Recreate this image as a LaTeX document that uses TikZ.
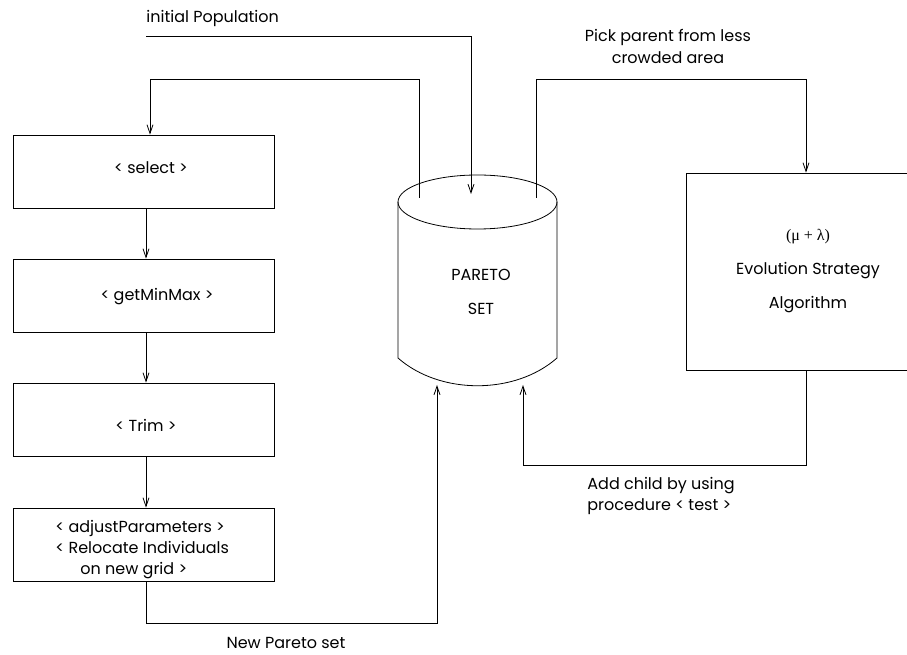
\documentclass[tikz,border=0pt]{standalone}
\usepackage{fontspec}
\setmainfont{Poppins}
\newfontfamily\greekfont{Liberation Serif}
\usetikzlibrary{arrows.meta}
\begin{document}
\begin{tikzpicture}[x=0.75pt,y=-0.75pt,
  line width=0.6pt,
  font=\fontsize{12}{14}\selectfont,
  arr/.style={-{Straight Barb[length=6.5pt,width=4.5pt]}},
  stepbox/.style={draw, inner sep=0pt, minimum width=195.75pt, minimum height=54.75pt},
  lbl/.style={inner sep=0pt}]
\useasboundingbox (0,0) rectangle (907,655);
\clip (0,0) rectangle (907,655);

% left column of procedure boxes
\node[stepbox] (sel) at (143.5,171.5) {};
\node[stepbox] (gmm) at (143.5,295.5) {};
\node[stepbox] (trim) at (143.5,419.5) {};
\node[stepbox] (adj) at (144,544.5) {};
\node[lbl] (selt) at (151,168) {< select >};
\node[lbl] (gmmt) at (157,297) {< getMinMax >};
\node[lbl] (trimt) at (146,425) {< Trim >};
\node[lbl, anchor=west, align=left, font=\fontsize{12}{15.75}\selectfont] (adjt) at (55,550)
  {< adjustParameters >\\< Relocate Individuals\\\hspace*{18.75pt}on new grid >};

% evolution strategy box (runs past the right edge of the page)
\node[draw, inner sep=0pt, minimum width=180pt, minimum height=147.75pt] (es) at (806,271.5) {};
\node[lbl, align=center, font=\fontsize{12}{25.5}\selectfont] (est) at (808,271)
  {{\greekfont (μ + λ)}\\Evolution Strategy\\Algorithm};

% Pareto set store
\draw (477.5,202) ellipse [x radius=79.5, y radius=27];
\draw (398,202) -- (398,358) .. controls (440,395) and (515,395) .. (557,358) -- (557,202);
\node[lbl, align=center, font=\fontsize{12}{25.5}\selectfont] (pareto) at (481,292) {PARETO\\SET};

% attachment points
\coordinate (cylL) at (419,198);
\coordinate (cylR) at (536,198);
\coordinate (cylIn) at (471,194);
\coordinate (cylBL) at (437,385);
\coordinate (cylBR) at (523,385);
\coordinate (ip) at (146,36);
\coordinate (toprow) at (0,79);
\coordinate (botrow) at (0,623);
\coordinate (childrow) at (0,465);
\coordinate (colx) at (146,0);
\coordinate (selin) at (150,0);
\coordinate (esx) at (806,0);

% connectors
\node[lbl, anchor=west] (iptext) at (146,18) {initial Population};
\draw[arr] (ip) -| (cylIn);
\draw[arr] (cylL) -- (cylL |- toprow) -| (sel.north -| selin);
\draw[arr] (sel.south -| colx) -- (gmm.north -| colx);
\draw[arr] (gmm.south -| colx) -- (trim.north -| colx);
\draw[arr] (trim.south -| colx) -- (adj.north -| colx);
\draw[arr] (adj.south -| colx) -- (colx |- botrow) -| (cylBL);
\draw[arr] (cylR) -- (cylR |- toprow) -| (es.north -| esx);
\draw[arr] (es.south -| esx) -- (esx |- childrow) -| (cylBR);

% connector labels
\node[lbl, align=center, font=\fontsize{12}{16.5}\selectfont] (picktext) at (668,46)
  {Pick parent from less\\crowded area};
\node[lbl, anchor=west, align=left, font=\fontsize{12}{15.75}\selectfont] (addtext) at (587,496)
  {Add child by using\\procedure < test >};
\node[lbl] (newtext) at (286,643) {New Pareto set};
\end{tikzpicture}
\end{document}
